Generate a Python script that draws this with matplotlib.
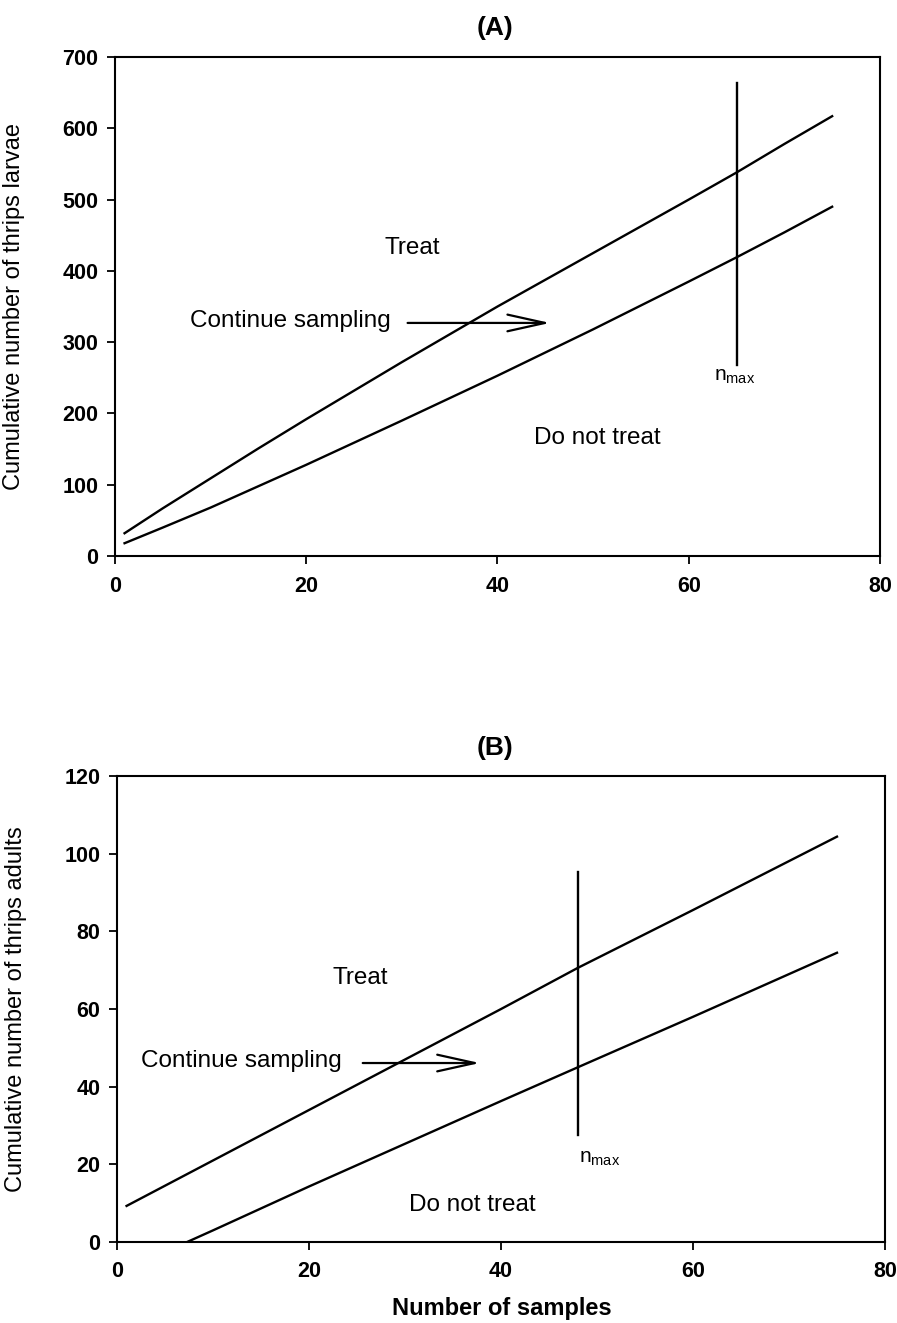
import matplotlib
matplotlib.use('Agg')
import matplotlib.pyplot as plt

plt.rcParams['font.family'] = ['Liberation Sans', 'DejaVu Sans']
plt.rcParams['mathtext.fontset'] = 'custom'
plt.rcParams['mathtext.rm'] = 'Liberation Sans'
plt.rcParams['mathtext.it'] = 'Liberation Sans'

# Stop lines for thrips larvae (A)
larvae_upper_n = [1, 5, 10, 15, 20, 30, 40, 50, 60, 65, 70, 75]
larvae_upper = [32, 67, 109, 151, 192, 272, 350, 425, 500, 538, 578, 617]
larvae_lower_n = [1, 5, 10, 15, 20, 30, 40, 50, 60, 65, 70, 75]
larvae_lower = [18, 40, 68, 98, 128, 190, 253, 318, 385, 419, 454, 490]
larvae_nmax = 65
larvae_nmax_span = [268, 663]

# Stop lines for thrips adults (B)
adults_upper_n = [1, 10, 20, 30, 40, 48, 60, 75]
adults_upper = [9.3, 21, 34, 47, 60, 70.6, 85.5, 104.4]
adults_lower_n = [7.3, 10, 20, 30, 40, 48, 60, 75]
adults_lower = [0, 3, 14.3, 25.3, 36.3, 45, 58, 74.5]
adults_nmax = 48
adults_nmax_span = [27.6, 95.4]

LW = 1.7
TXT = 17.5


def style_axes(ax, ylim, yticks):
    ax.set_xlim(0, 80)
    ax.set_ylim(*ylim)
    ax.set_xticks([0, 20, 40, 60, 80])
    ax.set_yticks(yticks)
    for s in ax.spines.values():
        s.set_linewidth(1.5)
    ax.tick_params(direction='out', length=6, width=1.3, top=False, right=False)
    ax.tick_params(axis='y', pad=6)
    ax.tick_params(axis='x', pad=8)
    for lab in ax.get_xticklabels() + ax.get_yticklabels():
        lab.set_fontsize(15.5)
        lab.set_fontweight('bold')


def arrow(ax, start, end):
    ax.annotate('', xy=end, xytext=start,
                arrowprops=dict(arrowstyle='->,head_length=2.7,head_width=0.6',
                                lw=1.6, color='black', shrinkA=0, shrinkB=0,
                                mutation_scale=10))


fig = plt.figure(figsize=(8.97, 13.23), dpi=100)
axA = fig.add_axes([0.1282, 0.5797, 0.8528, 0.3772])
axB = fig.add_axes([0.1304, 0.0612, 0.8562, 0.3522])

# Panel A
axA.plot(larvae_upper_n, larvae_upper, color='black', lw=LW)
axA.plot(larvae_lower_n, larvae_lower, color='black', lw=LW)
axA.plot([larvae_nmax, larvae_nmax], larvae_nmax_span, color='black', lw=LW)
style_axes(axA, (0, 700), range(0, 701, 100))
axA.set_ylabel('Cumulative number of thrips larvae', fontsize=17)
axA.yaxis.set_label_coords(-0.118, 0.5)
axA.text(31.1, 432, 'Treat', fontsize=TXT, ha='center', va='center')
axA.text(18.3, 330, 'Continue sampling', fontsize=TXT, ha='center', va='center')
axA.text(50.4, 165, 'Do not treat', fontsize=TXT, ha='center', va='center')
axA.text(64.8, 252, r'n$_{\rm max}$', fontsize=15, ha='center', va='center')
arrow(axA, (30.6, 327), (45.5, 327))

# Panel B
axB.plot(adults_upper_n, adults_upper, color='black', lw=LW)
axB.plot(adults_lower_n, adults_lower, color='black', lw=LW)
axB.plot([adults_nmax, adults_nmax], adults_nmax_span, color='black', lw=LW)
style_axes(axB, (0, 120), range(0, 121, 20))
axB.set_ylabel('Cumulative number of thrips adults', fontsize=17)
axB.yaxis.set_label_coords(-0.117, 0.5)
axB.text(25.3, 68, 'Treat', fontsize=TXT, ha='center', va='center')
axB.text(13.0, 46.5, 'Continue sampling', fontsize=TXT, ha='center', va='center')
axB.text(37.0, 9.5, 'Do not treat', fontsize=TXT, ha='center', va='center')
axB.text(50.3, 21.6, r'n$_{\rm max}$', fontsize=15, ha='center', va='center')
arrow(axB, (25.6, 46.1), (37.8, 46.1))

# Panel titles and shared x label
fig.text(495 / 897, 1 - 28 / 1323, '(A)', fontsize=19, fontweight='bold',
         ha='center', va='center')
fig.text(495 / 897, 1 - 748 / 1323, '(B)', fontsize=19, fontweight='bold',
         ha='center', va='center')
fig.text(502 / 897, 1 - 1308 / 1323, 'Number of samples', fontsize=17,
         fontweight='bold', ha='center', va='center')

fig.savefig('out.png', dpi=100)
